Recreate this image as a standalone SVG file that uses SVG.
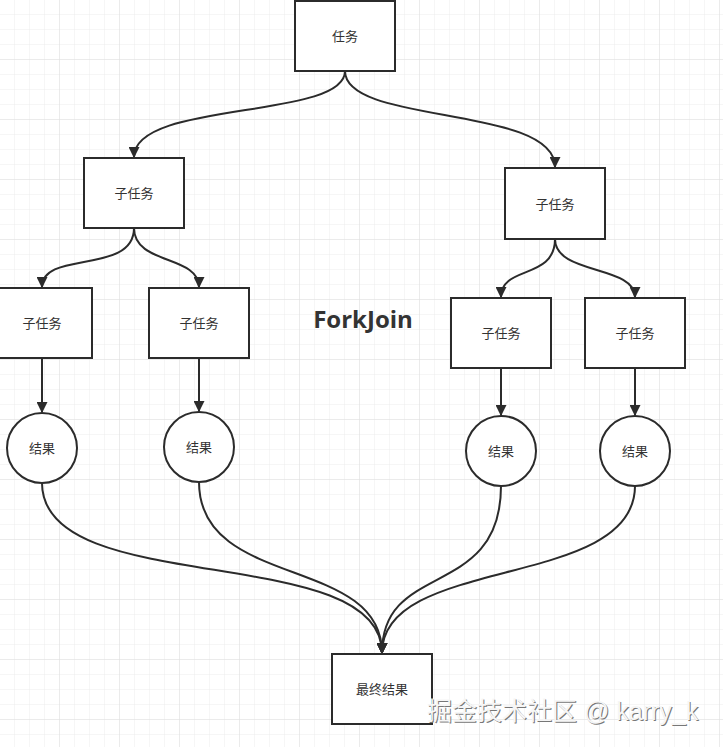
<svg xmlns="http://www.w3.org/2000/svg" width="723" height="747" viewBox="0 0 723 747">
<defs>
<pattern id="minor" width="15" height="15" patternUnits="userSpaceOnUse" x="0" y="0">
<path d="M15 0 V15 M0 15 H15" fill="none" stroke="#ececec" stroke-width="1"/>
</pattern>
<pattern id="major" width="60" height="60" patternUnits="userSpaceOnUse" x="0" y="0">
<rect width="60" height="60" fill="url(#minor)"/>
<path d="M60 0 V60 M0 60 H60" fill="none" stroke="#e0e0e0" stroke-width="1"/>
</pattern>
<marker id="arr" viewBox="0 0 10 10" refX="9" refY="5" markerWidth="5.5" markerHeight="5.5" orient="auto" markerUnits="strokeWidth">
<path d="M0 0 L10 5 L0 10 Z" fill="#2b2b2b"/>
</marker>
<style>
.box{fill:#fff;stroke:#2b2b2b;stroke-width:2}
.lbl{font-family:"Liberation Sans","Noto Sans CJK SC",sans-serif;font-size:13px;fill:#333;text-anchor:middle;dominant-baseline:central}
.edge{fill:none;stroke:#2b2b2b;stroke-width:2;marker-end:url(#arr)}
</style>
</defs>
<rect width="723" height="747" fill="#fff"/>
<rect width="723" height="747" fill="url(#major)"/>
<g id="connectors">
<path class="edge" d="M345 71 C345 120 134 100 134 157"/>
<path class="edge" d="M345 71 C345 125 555 105 555 167"/>
<path class="edge" d="M134 228 C134 275 42 250 42 287"/>
<path class="edge" d="M134 228 C134 265 199 255 199 287"/>
<path class="edge" d="M555 239 C555 280 501 265 501 297"/>
<path class="edge" d="M555 239 C555 275 635 265 635 297"/>
<path class="edge" d="M42 358 V412"/>
<path class="edge" d="M199 358 V411"/>
<path class="edge" d="M501 368 V415"/>
<path class="edge" d="M635 368 V415"/>
<path class="edge" d="M42 483 C42 600 382 540 382 653"/>
<path class="edge" d="M199 482 C199 590 382 555 382 653"/>
<path class="edge" d="M501 486 C501 600 382 560 382 653"/>
<path class="edge" d="M635 486 C635 590 382 555 382 653"/>
</g>
<g id="task"><rect class="box" x="295" y="1" width="100" height="70"/><text class="lbl" x="345" y="36">任务</text></g>
<g id="sub-left"><rect class="box" x="84" y="158" width="100" height="70"/><text class="lbl" x="134" y="193">子任务</text></g>
<g id="sub-right"><rect class="box" x="505" y="168" width="100" height="71"/><text class="lbl" x="555" y="204">子任务</text></g>
<g id="sub-ll"><rect class="box" x="-8" y="288" width="100" height="70"/><text class="lbl" x="42" y="323">子任务</text></g>
<g id="sub-lr"><rect class="box" x="149" y="288" width="100" height="70"/><text class="lbl" x="199" y="323">子任务</text></g>
<g id="sub-rl"><rect class="box" x="451" y="298" width="100" height="70"/><text class="lbl" x="501" y="333">子任务</text></g>
<g id="sub-rr"><rect class="box" x="585" y="298" width="100" height="70"/><text class="lbl" x="635" y="333">子任务</text></g>
<g id="res-ll"><circle class="box" cx="42" cy="448" r="35"/><text class="lbl" x="42" y="448">结果</text></g>
<g id="res-lr"><circle class="box" cx="199" cy="447" r="35"/><text class="lbl" x="199" y="447">结果</text></g>
<g id="res-rl"><circle class="box" cx="501" cy="451" r="35"/><text class="lbl" x="501" y="451">结果</text></g>
<g id="res-rr"><circle class="box" cx="635" cy="451" r="35"/><text class="lbl" x="635" y="451">结果</text></g>
<g id="final"><rect class="box" x="332" y="654" width="100" height="70"/><text class="lbl" x="382" y="689">最终结果</text></g>
<text x="363" y="318" font-family="'Open Sans','Liberation Sans',sans-serif" font-size="24" font-weight="bold" fill="#333" text-anchor="middle" dominant-baseline="central">ForkJoin</text>
<g id="watermark" font-family="'Liberation Sans','Noto Sans CJK SC',sans-serif" font-size="25">
<text x="428" y="721" fill="#777">掘金技术社区 @ karry_k</text>
<text x="427" y="720" fill="#f6f6f6">掘金技术社区 @ karry_k</text>
</g>
</svg>
